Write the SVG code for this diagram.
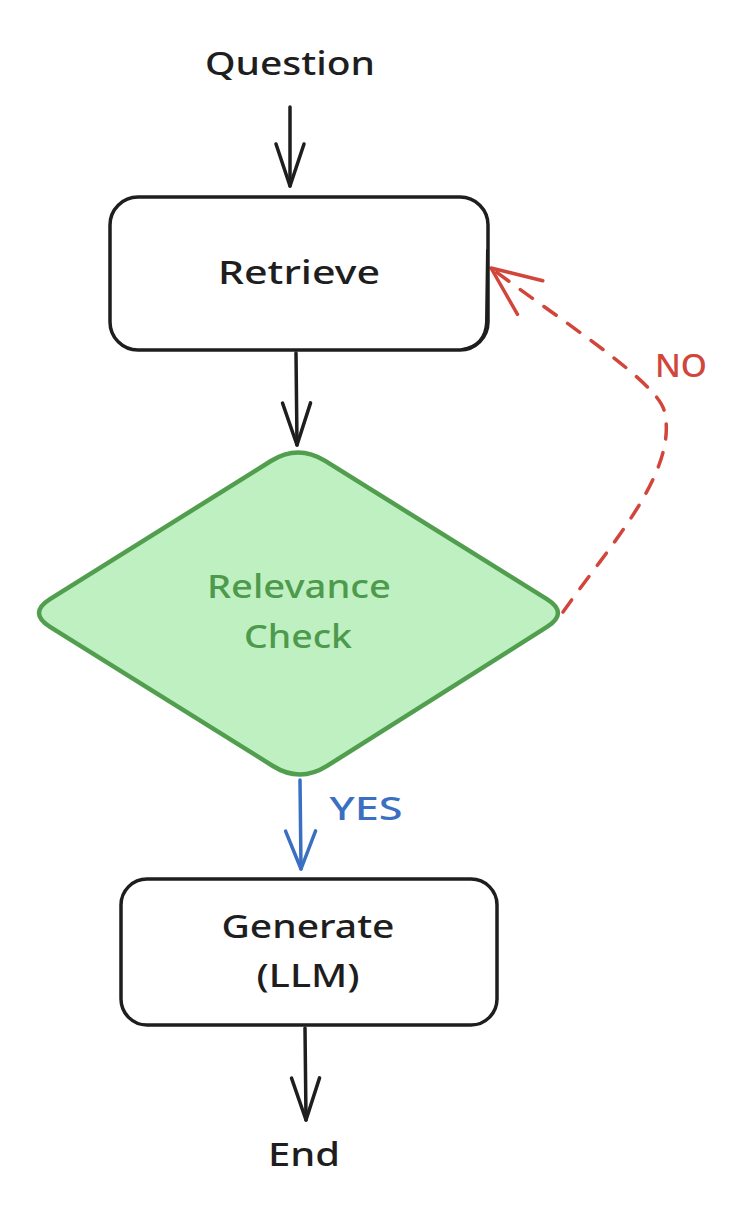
<svg xmlns="http://www.w3.org/2000/svg" width="744" height="1212" viewBox="0 0 744 1212">
  <style>
    .t { font-family: "Noto Sans", "Liberation Sans", sans-serif; font-size: 32px; text-anchor: middle; font-weight: 500; }
    .dark { fill: #1e1e1e; }
    .box { fill: #ffffff; stroke: #1e1e1e; stroke-width: 3.5; }
    .conn { fill: none; stroke-width: 3.5; stroke-linecap: round; stroke-linejoin: round; }
  </style>
  <defs>
    <marker id="ah-black" markerUnits="userSpaceOnUse" markerWidth="80" markerHeight="80" refX="0" refY="0" orient="auto" overflow="visible">
      <path d="M-42,-14 L0,0 L-42,14" fill="none" stroke="#1e1e1e" stroke-width="3.5" stroke-linecap="round" stroke-linejoin="round"/>
    </marker>
    <marker id="ah-blue" markerUnits="userSpaceOnUse" markerWidth="80" markerHeight="80" refX="0" refY="0" orient="auto" overflow="visible">
      <path d="M-38,-15 L0,0 L-38,15" fill="none" stroke="#3b6fc2" stroke-width="3.5" stroke-linecap="round" stroke-linejoin="round"/>
    </marker>
    <marker id="ah-red" markerUnits="userSpaceOnUse" markerWidth="80" markerHeight="80" refX="0" refY="0" orient="auto" overflow="visible">
      <path d="M-49,-21 L0,0 L-49,21" fill="none" stroke="#d2453b" stroke-width="3.5" stroke-linecap="round" stroke-linejoin="round"/>
    </marker>
  </defs>
  <rect width="744" height="1212" fill="#ffffff"/>

  <g id="connectors">
    <path class="conn" stroke="#1e1e1e" d="M290,107 L290,186" marker-end="url(#ah-black)"/>
    <path class="conn" stroke="#1e1e1e" d="M296,353 L297,445" marker-end="url(#ah-black)"/>
    <path class="conn" stroke="#3b6fc2" d="M300,780 L301,869" marker-end="url(#ah-blue)"/>
    <path class="conn" stroke="#1e1e1e" d="M305,1028 L306,1120" marker-end="url(#ah-black)"/>
    <path class="conn" stroke="#d2453b" stroke-dasharray="15 14" d="M563,612 C610,545 680,470 664,410 C655,380 560,320 491,268" marker-end="url(#ah-red)"/>
    <text class="t" x="366" y="820" fill="#3b6fc2" textLength="73" lengthAdjust="spacingAndGlyphs">YES</text>
    <text class="t" x="681" y="377" fill="#d2453b" textLength="52" lengthAdjust="spacingAndGlyphs">NO</text>
  </g>

  <g id="question">
    <text class="t dark" x="290" y="75" textLength="170" lengthAdjust="spacingAndGlyphs">Question</text>
  </g>

  <g id="retrieve">
    <rect class="box" x="110" y="197" width="378" height="153" rx="28" ry="28"/>
    <path d="M487,250 L486,322 Q485,345 462,349" fill="none" stroke="#1e1e1e" stroke-width="2" stroke-linecap="round"/>
    <text class="t dark" x="299" y="284" textLength="162" lengthAdjust="spacingAndGlyphs">Retrieve</text>
  </g>

  <g id="relevance-check">
    <path d="M325.2,460.9 L546.9,599.2 Q569,613 547,626.9 L327.1,765.9 Q300,783 272.9,766 L50,626.8 Q28,613 50,599.2 L270.9,461 Q298,444 325.2,460.9 Z" fill="#bff0c1" stroke="#519e4f" stroke-width="4.5" stroke-linejoin="round"/>
    <text class="t" x="299" y="598" fill="#4e9a4c" textLength="184" lengthAdjust="spacingAndGlyphs">Relevance</text>
    <text class="t" x="298" y="648" fill="#4e9a4c" textLength="108" lengthAdjust="spacingAndGlyphs">Check</text>
  </g>

  <g id="generate">
    <rect class="box" x="121" y="879" width="376" height="146" rx="26" ry="26"/>
    <text class="t dark" x="308" y="938" textLength="173" lengthAdjust="spacingAndGlyphs">Generate</text>
    <text class="t dark" x="308" y="987" textLength="103" lengthAdjust="spacingAndGlyphs">(LLM)</text>
  </g>

  <g id="end">
    <text class="t dark" x="304" y="1166" textLength="72" lengthAdjust="spacingAndGlyphs">End</text>
  </g>
</svg>
